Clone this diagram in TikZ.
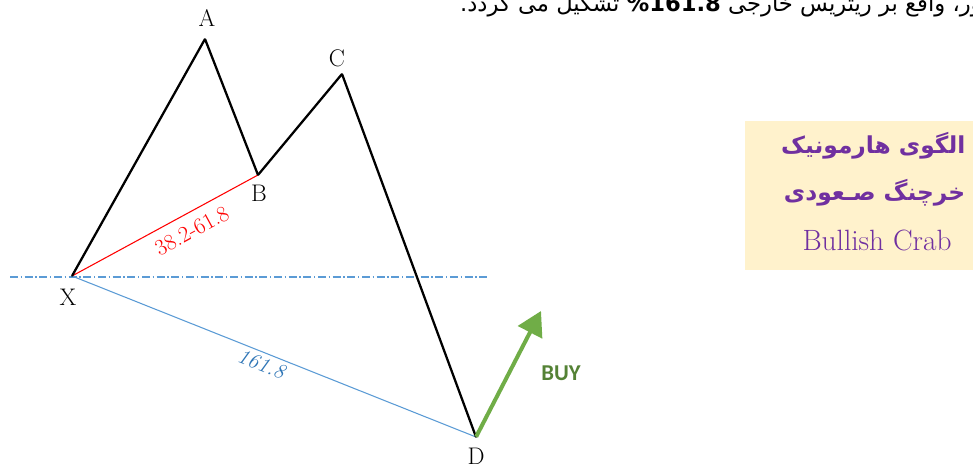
\documentclass[tikz,border=0pt]{standalone}
\usepackage{fontspec}
\usetikzlibrary{arrows.meta,positioning}
\TeXXeTstate=1
\newfontfamily\persianfont[Script=Arabic]{DejaVu Sans}
\newfontfamily\buyfont{Carlito}
\definecolor{crabpurple}{RGB}{112,48,160}
\definecolor{crabgold}{RGB}{255,242,204}
\definecolor{legblue}{RGB}{91,155,213}
\definecolor{legbluetext}{RGB}{46,117,182}
\definecolor{buygreen}{RGB}{112,173,71}
\definecolor{buytext}{RGB}{84,130,53}

\begin{document}
\begin{tikzpicture}[
  x=0.75pt,y=-0.75pt,
  pt/.style={inner sep=0pt,minimum size=0pt},
  ptlabel/.style={font=\fontsize{18}{20}\selectfont},
  leg/.style={line width=1.7pt,line join=round,line cap=round},
  ratio/.style={red,line width=0.8pt},
  ext/.style={legblue,line width=0.8pt},
  level/.style={legblue,line width=0.8pt,dash pattern=on 6pt off 2pt on 1pt off 2pt},
  buy/.style={buygreen,line width=3pt,-{Triangle[length=18pt,width=20pt]}},
  persian/.style={anchor=east,text=crabpurple,font=\persianfont\bfseries\fontsize{17.5}{20}\selectfont},
]
\useasboundingbox (0,0) rectangle (973,467);
\clip (0,0) rectangle (973,467);

% Pattern points
\node[pt] (X) at (72,276)  {};
\node[pt] (A) at (205,39)  {};
\node[pt] (B) at (258,175) {};
\node[pt] (C) at (342,74)  {};
\node[pt] (D) at (476,437) {};

\node[ptlabel] (lX) at (68,297)  {X};
\node[ptlabel] (lA) at (207,18)  {A};
\node[ptlabel] (lB) at (259,193) {B};
\node[ptlabel] (lC) at (337,58)  {C};
\node[ptlabel] (lD) at (476,456) {D};

% Level of X
\coordinate (levL) at (10,277);
\coordinate (levR) at (487,277);
\draw[level] (levL) -- (levR);

% Retracements
\draw[ratio] (X) -- (B)
  node[pos=0.6,below,sloped,inner sep=7pt,font=\fontsize{17}{19}\selectfont] (rXB) {38.2-61.8};
\draw[ext] (X) -- (D)
  node[pos=0.48,below,sloped,inner sep=3pt,text=legbluetext,font=\fontsize{16}{18}\selectfont\itshape] (rXD) {161.8};

% Legs
\draw[leg] (X) -- (A) -- (B) -- (C) -- (D);

% Entry
\coordinate (buytip) at (541,311);
\draw[buy] (D) -- (buytip);
\node[font=\buyfont\bfseries\fontsize{17}{19}\selectfont,text=buytext] (buylbl) at (561,373) {BUY};

% Title box
\node[fill=crabgold,anchor=north west,inner sep=0pt,
      minimum width=180pt,minimum height=111.75pt] (tbox) at (745,121) {};
\node[persian] (t1) at (970,146) {\beginR الگوی هارمونیک\endR};
\node[persian] (t2) at (970,193) {\beginR خرچنگ صـعودی\endR};
\node[text=crabpurple,font=\fontsize{22}{24}\selectfont] (t3) at (877,240) {Bullish Crab};

% Caption line cut by the page edge
\node[anchor=base east,inner sep=0pt,font=\persianfont\fontsize{17}{20}\selectfont] (cap) at (982,12)
  {\beginR ور، واقع بر ریتریس خارجی \beginL\textbf{\%161.8}\endL{} تشکیل می گردد.\endR};
\end{tikzpicture}
\end{document}
